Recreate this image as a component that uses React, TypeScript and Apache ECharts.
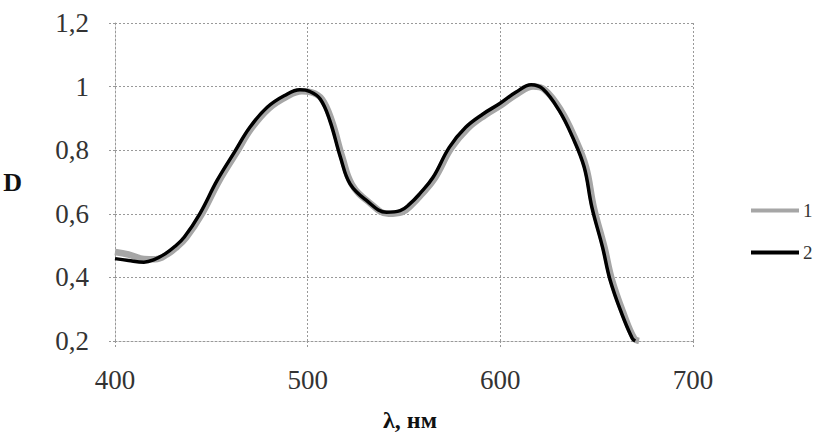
import React, { useEffect, useRef } from "react";
import * as echarts from "echarts";

const seriesNames = ["1", "2"];
// Curve 1 (gray)
const x1 = [400, 407, 415, 421, 427, 432, 437, 445, 454, 463, 471, 480, 489, 497, 502, 507.5, 512.5, 518, 523, 531.5, 542, 549, 554, 559, 566, 574.5, 583, 592, 600.5, 609, 617, 623, 631.5, 638.5, 644.5, 648.5, 654, 658, 664, 669.5, 672];
const y1 = [0.48, 0.472, 0.458, 0.457, 0.472, 0.495, 0.525, 0.598, 0.703, 0.792, 0.87, 0.932, 0.968, 0.985, 0.982, 0.96, 0.893, 0.778, 0.692, 0.638, 0.6, 0.605, 0.628, 0.66, 0.712, 0.806, 0.868, 0.91, 0.942, 0.978, 1.0, 0.99, 0.925, 0.841, 0.747, 0.621, 0.496, 0.391, 0.286, 0.208, 0.2];
// Curve 2 (black)
const x2 = [400, 407, 415, 420, 426, 431, 436, 444, 453, 462, 470, 479, 488, 496, 501, 506.5, 511.5, 517, 522, 530.5, 541, 548, 553, 558, 565, 573.5, 582, 591, 599.5, 608, 616, 622, 630.5, 637.5, 643.5, 647.5, 653, 657, 663, 668.5, 670];
const y2 = [0.459, 0.453, 0.448, 0.455, 0.474, 0.497, 0.527, 0.6, 0.705, 0.794, 0.872, 0.935, 0.972, 0.99, 0.985, 0.961, 0.893, 0.778, 0.694, 0.642, 0.605, 0.61, 0.631, 0.662, 0.714, 0.809, 0.872, 0.914, 0.946, 0.982, 1.006, 0.993, 0.925, 0.841, 0.747, 0.621, 0.496, 0.391, 0.286, 0.208, 0.2];

const xName = "λ, нм";
const yName = "D";

const SERIF = "'Liberation Serif', 'Times New Roman', serif";

export default function App() {
  const ref = useRef<HTMLDivElement>(null);
  useEffect(() => {
    if (!ref.current) return;
    const chart = echarts.init(ref.current, undefined, { renderer: "svg" });
    const grid = { type: [2, 2] as any, color: "#999", width: 1 };
    chart.setOption({
      animation: false,
      backgroundColor: "#fff",
      grid: { left: 115, right: 122, top: 23, bottom: 93, outerBoundsMode: "none", containLabel: false },
      legend: {
        orient: "vertical",
        left: 751,
        top: 201,
        padding: 0,
        itemWidth: 48,
        itemHeight: 20,
        itemGap: 23,
        textStyle: { fontFamily: SERIF, fontSize: 19, color: "#333", padding: [0, 0, 0, -1] },
        data: [
          { name: seriesNames[0], icon: "path://M0,0 L48,0 L48,4 L0,4 Z", itemStyle: { color: "#a6a6a6" } },
          { name: seriesNames[1], icon: "path://M0,0 L48,0 L48,4 L0,4 Z", itemStyle: { color: "#000" } },
        ],
      },
      xAxis: {
        type: "value",
        min: 400,
        max: 700,
        interval: 100,
        name: xName,
        nameLocation: "middle",
        nameGap: 67,
        nameTextStyle: { fontFamily: SERIF, fontSize: 24, fontWeight: "bold", color: "#111", padding: [0, 0, 0, 12] },
        axisLine: { show: true, lineStyle: grid },
        axisTick: { show: true, length: 7, inside: false, lineStyle: grid },
        splitLine: { show: true, lineStyle: grid },
        axisLabel: { fontFamily: SERIF, fontSize: 27, color: "#333", margin: 25 },
      },
      yAxis: {
        type: "value",
        min: 0.2,
        max: 1.2,
        interval: 0.2,
        name: yName,
        nameLocation: "middle",
        nameRotate: 0,
        nameGap: 93,
        nameTextStyle: { fontFamily: SERIF, fontSize: 26, fontWeight: "bold", color: "#111" },
        axisLine: { show: true, lineStyle: grid },
        axisTick: { show: true, length: 8, inside: false, lineStyle: grid },
        splitLine: { show: true, lineStyle: grid },
        axisLabel: {
          fontFamily: SERIF,
          fontSize: 27,
          color: "#333",
          margin: 26,
          formatter: (v: number) => String(Number(v.toFixed(1))).replace(".", ","),
        },
      },
      series: [
        {
          name: seriesNames[0],
          type: "line",
          smooth: 0.4,
          symbol: "none",
          clip: true,
          lineStyle: { color: "#a6a6a6", width: 6.5 },
          itemStyle: { color: "#a6a6a6" },
          data: x1.map((x, i) => [x, y1[i]]),
        },
        {
          name: seriesNames[1],
          type: "line",
          smooth: 0.4,
          symbol: "none",
          clip: true,
          lineStyle: { color: "#000", width: 3.5 },
          itemStyle: { color: "#000" },
          data: x2.map((x, i) => [x, y2[i]]),
        },
      ],
    });
    return () => chart.dispose();
  }, []);
  return (
    <div
      ref={ref}
      style={{ position: "fixed", left: 0, top: 0, width: 815, height: 434, background: "#fff" }}
    />
  );
}
